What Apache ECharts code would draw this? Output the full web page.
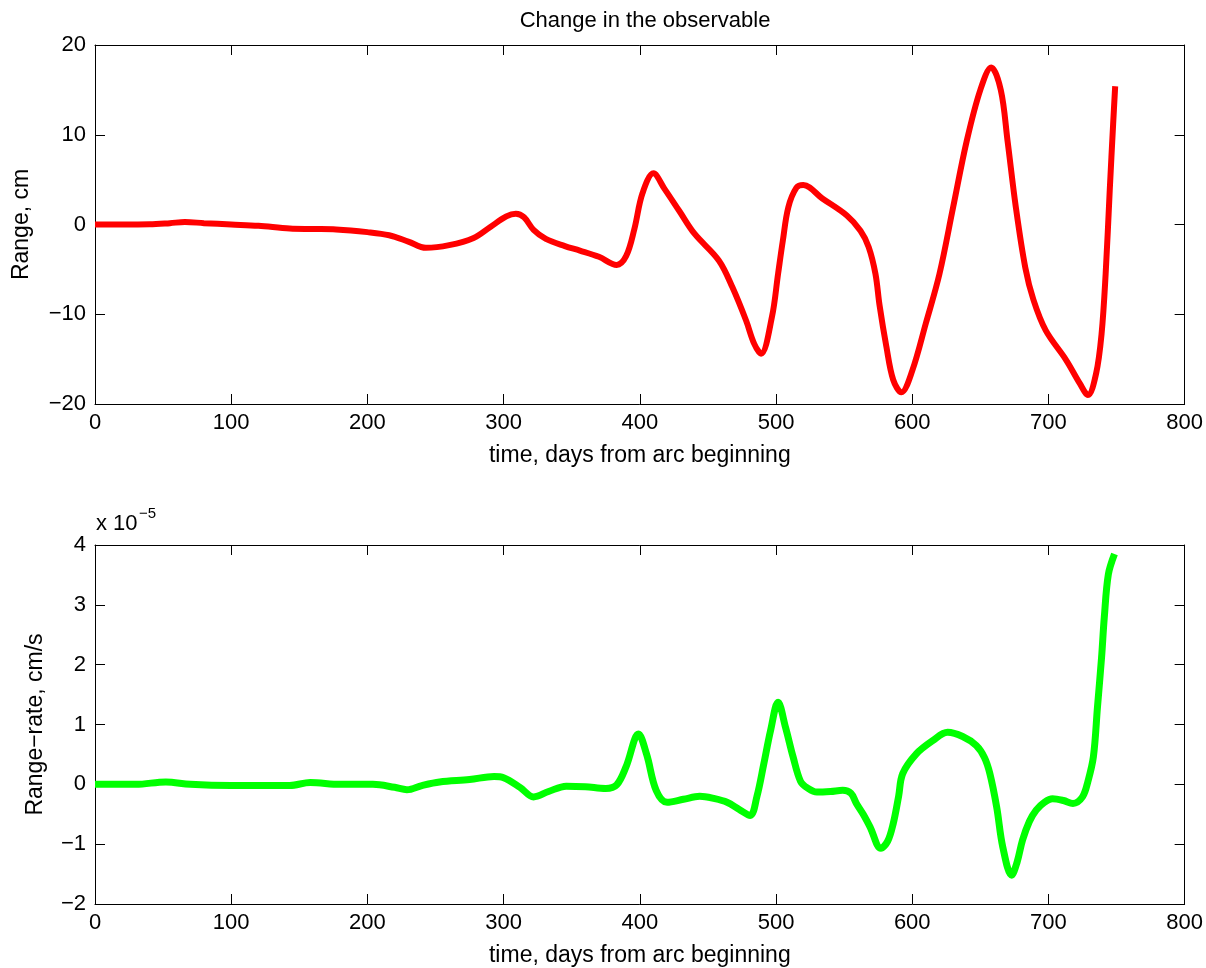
<!DOCTYPE html>
<html><head><meta charset="utf-8">
<script src="https://cdn.jsdelivr.net/npm/echarts@6/dist/echarts.min.js"></script>
<style>html,body{margin:0;padding:0;background:#fff}#c{width:1206px;height:968px}</style>
</head><body><div id="c"></div>
<script>
// ---- data ----
const rangeDays = [0,20,40,55,66,80,100,120,143,160,177,200,216,230,243,260,278,290,302,309,315,322,331,345,356,370,383,390,396,402,410,418,429,440,458,468,478,484,489,497,501.5,505,509,515,520,534,552,562,568,573,576,581,586,592,600,610,620,630,640,650,658,665,670,676,683,689,698,713,723,729,735,739,742,745,747.5,749];
const rangeCm   = [0,0,0.02,0.15,0.28,0.15,0,-0.15,-0.45,-0.5,-0.55,-0.85,-1.2,-1.9,-2.6,-2.3,-1.5,-0.3,0.9,1.2,0.8,-0.6,-1.6,-2.4,-2.9,-3.6,-4.5,-3.5,-0.5,3.5,5.7,4.0,1.5,-1.0,-4.0,-7.0,-10.7,-13.3,-14.4,-10.3,-5.5,-1.8,1.9,4.1,4.4,2.9,1.0,-0.7,-2.5,-5.5,-9.0,-13.6,-17.3,-18.7,-16.3,-11.0,-5.5,1.9,9.3,15.0,17.5,15.0,9.3,2.0,-4.8,-8.4,-11.8,-15.1,-17.7,-19.0,-16.6,-12.2,-5.5,3.8,11.2,15.4];
const rateDays  = [0,30,52,70,100,143,158,180,204,220,229,240,253,275,293,300,312,322,333,346,360,375,383,390,399,405,412,420,432,444,455,464,473,481,486,491,496,501.5,507,512.5,518,523,530,540,549,555,559,564,569,577,582,586,590,593,603,615,626,637,647,653,657,662,666.5,673,677,681,686,691,697,703,711,718,725,729,733,736,739,741,744,748.5];
const rateE5    = [0,0,0.04,0,-0.02,-0.02,0.03,0,0,-0.05,-0.09,-0.02,0.04,0.08,0.13,0.11,-0.05,-0.21,-0.12,-0.03,-0.04,-0.07,-0.01,0.3,0.84,0.5,-0.1,-0.3,-0.25,-0.2,-0.24,-0.3,-0.42,-0.52,-0.2,0.34,0.9,1.37,0.95,0.46,0.05,-0.06,-0.13,-0.12,-0.1,-0.15,-0.32,-0.5,-0.71,-1.07,-0.95,-0.66,-0.2,0.18,0.51,0.73,0.87,0.8,0.65,0.45,0.18,-0.38,-1.05,-1.52,-1.3,-0.93,-0.62,-0.43,-0.3,-0.24,-0.27,-0.32,-0.21,0.05,0.46,1.29,2.12,2.79,3.51,3.85];
const xMin = 0, xMax = 800, xStep = 100;
const rangeMin = -20, rangeMax = 20, rangeStep = 10;
const rateMin = -2, rateMax = 4, rateStep = 1;
const titleText = 'Change in the observable';
const xName = 'time, days from arc beginning';
const rangeName = 'Range, cm';
const rateName = 'Range\u2212rate, cm/s';

const FONT = "'Liberation Sans', Arial, Helvetica, sans-serif";
const minus = v => String(v).replace('-', '\u2212');
const pair = (xs, ys) => xs.map((x, i) => [x, ys[i]]);

const chart = echarts.init(document.getElementById('c'), null, {renderer: 'canvas'});
const lineC = {show: true, onZero: false, lineStyle: {color: '#000', width: 1}};
const tickIn = {show: true, inside: true, length: 10, lineStyle: {color: '#000', width: 1}};
const lab = {color: '#000', fontSize: 22, fontFamily: FONT, formatter: minus};
const nameStyle = {color: '#000', fontSize: 23, fontFamily: FONT};

function xAxes(g) {
  return [
    {type: 'value', gridIndex: g, min: xMin, max: xMax, interval: xStep, position: 'bottom',
     axisLine: lineC, axisTick: tickIn, splitLine: {show: false},
     axisLabel: Object.assign({margin: 8}, lab),
     name: xName, nameLocation: 'middle', nameGap: 40, nameTextStyle: nameStyle},
    {type: 'value', gridIndex: g, min: xMin, max: xMax, interval: xStep, position: 'top',
     axisLine: lineC, axisTick: tickIn, splitLine: {show: false}, axisLabel: {show: false}}
  ];
}
function yAxes(g, mn, mx, st, name, gap) {
  return [
    {type: 'value', gridIndex: g, min: mn, max: mx, interval: st, position: 'left',
     axisLine: lineC, axisTick: tickIn, splitLine: {show: false},
     axisLabel: Object.assign({margin: 9}, lab),
     name: name, nameLocation: 'middle', nameGap: gap, nameRotate: 90, nameTextStyle: nameStyle},
    {type: 'value', gridIndex: g, min: mn, max: mx, interval: st, position: 'right',
     axisLine: lineC, axisTick: tickIn, splitLine: {show: false}, axisLabel: {show: false}}
  ];
}

chart.setOption({
  animation: false,
  backgroundColor: '#fff',
  title: {text: titleText, left: 640, top: 5, textAlign: 'center',
    textStyle: {fontSize: 22, fontWeight: 'normal', color: '#000', fontFamily: FONT}},
  grid: [
    {left: 95, top: 45, width: 1090, height: 359},
    {left: 95, top: 545, width: 1090, height: 359}
  ],
  xAxis: [...xAxes(0), ...xAxes(1)],
  yAxis: [...yAxes(0, rangeMin, rangeMax, rangeStep, rangeName, 62),
          ...yAxes(1, rateMin, rateMax, rateStep, rateName, 48)],
  graphic: [
    {type: 'text', left: 96, top: 513, style: {text: 'x 10', fontSize: 22, fontFamily: FONT, fill: '#000'}},
    {type: 'text', left: 139, top: 506, style: {text: '\u22125', fontSize: 15, fontFamily: FONT, fill: '#000'}}
  ],
  series: [
    {type: 'line', xAxisIndex: 0, yAxisIndex: 0, data: pair(rangeDays, rangeCm),
     smooth: 0.35, symbol: 'none', lineStyle: {color: '#ff0000', width: 6}, itemStyle: {color: '#ff0000'}},
    {type: 'line', xAxisIndex: 2, yAxisIndex: 2, data: pair(rateDays, rateE5),
     smooth: 0.35, symbol: 'none', lineStyle: {color: '#00ff00', width: 7}, itemStyle: {color: '#00ff00'}}
  ]
});
</script></body></html>
